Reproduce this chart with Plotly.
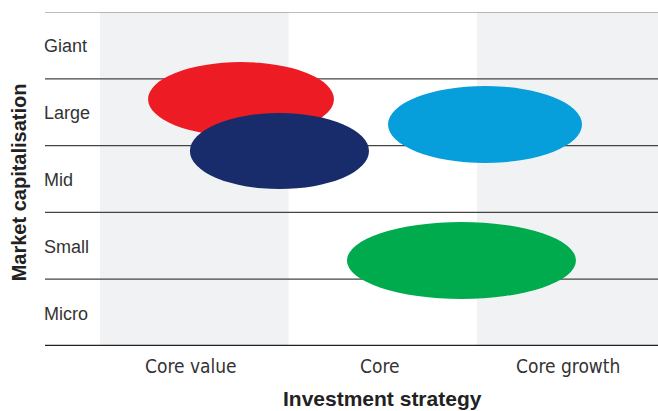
import plotly.graph_objects as go

# Categories
strategies = ["Core value", "Core", "Core growth"]
caps = ["Micro", "Small", "Mid", "Large", "Giant"]

# Fund style boxes (x in strategy-column units, y in cap-row units)
fund_colors = ["#ED1C24", "#182B6A", "#069FDB", "#00AB4E"]
fund_x0 = [0.255, 0.477, 1.528, 1.310]
fund_x1 = [1.241, 1.427, 2.557, 2.525]
fund_y0 = [3.14, 2.35, 2.74, 0.704]
fund_y1 = [4.25, 3.488, 3.892, 1.856]

x_range = [-0.2918, 2.9602]
y_range = [0, 5]

fig = go.Figure()
fig.add_trace(go.Scatter(x=[None], y=[None], showlegend=False, hoverinfo="skip"))

shapes = []
# gray bands for Core value and Core growth columns
for i, s in enumerate(strategies):
    if i % 2 == 0:
        shapes.append(dict(type="rect", xref="x", yref="y", x0=i, x1=i + 1, y0=0, y1=5,
                           fillcolor="#F1F2F4", line=dict(width=0), layer="below"))
# horizontal lines
for j in range(len(caps) + 1):
    if j == 0:
        col, w = "#222222", 2.5
    elif j == len(caps):
        col, w = "#7a7a7a", 1.2
    else:
        col, w = "#444444", 1.3
    shapes.append(dict(type="line", xref="x", yref="y", x0=x_range[0], x1=x_range[1], y0=j, y1=j,
                       line=dict(color=col, width=w), layer="above"))
# ellipses
for c, a, b, lo, hi in zip(fund_colors, fund_x0, fund_x1, fund_y0, fund_y1):
    shapes.append(dict(type="circle", xref="x", yref="y", x0=a, x1=b, y0=lo, y1=hi,
                       fillcolor=c, line=dict(width=0), layer="above"))

annotations = []
for j, c in enumerate(caps):
    annotations.append(dict(text=c, xref="paper", yref="y", x=0, y=j + 0.5, xanchor="left",
                            yanchor="middle", xshift=-3, yshift=-1, showarrow=False,
                            font=dict(family="Liberation Sans, Arial, sans-serif", size=18, color="#333333")))
for i, s in enumerate(strategies):
    annotations.append(dict(text=s, xref="x", yref="paper", x=i + 0.5, y=0, xanchor="center",
                            yanchor="top", yshift=-7, xshift=-3, showarrow=False,
                            font=dict(family="DejaVu Sans Condensed, sans-serif", size=19, color="#333333")))
annotations.append(dict(text="<b>Investment strategy</b>", xref="x", yref="paper", x=1.5, y=0,
                        xanchor="center", yanchor="top", yshift=-39, showarrow=False,
                        font=dict(family="Liberation Sans, Arial, sans-serif", size=21, color="#222222")))
annotations.append(dict(text="<b>Market capitalisation</b>", xref="paper", yref="paper", x=0, y=0.49,
                        xanchor="center", yanchor="middle", xshift=-26, textangle=-90, showarrow=False,
                        font=dict(family="Liberation Sans, Arial, sans-serif", size=20, color="#222222")))

fig.update_layout(
    width=658, height=411,
    margin=dict(l=45, r=0, t=12, b=65),
    paper_bgcolor="white", plot_bgcolor="white",
    shapes=shapes, annotations=annotations, showlegend=False,
    xaxis=dict(range=x_range, showgrid=False, zeroline=False, showticklabels=False, fixedrange=True),
    yaxis=dict(range=y_range, showgrid=False, zeroline=False, showticklabels=False, fixedrange=True),
)
fig.write_html("out.html", config={"displayModeBar": False})
